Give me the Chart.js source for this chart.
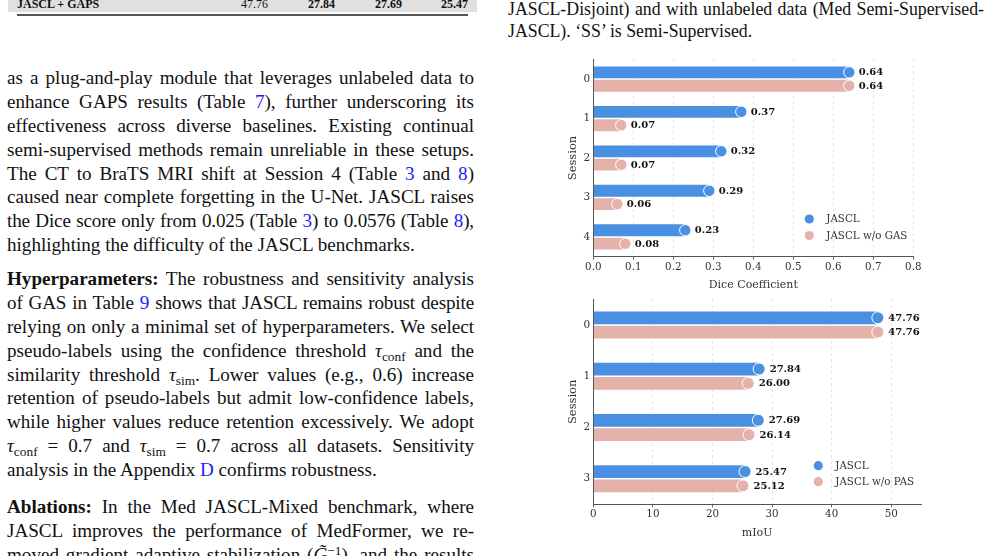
<!DOCTYPE html>
<html>
<head>
<meta charset="utf-8">
<script src="https://cdn.jsdelivr.net/npm/chart.js@4.4.0/dist/chart.umd.min.js"></script>
<style>
  html, body { margin: 0; padding: 0; background: #fff; }
  body {
    width: 987px; height: 556px; position: relative; overflow: hidden;
    font-family: "Liberation Serif", "Times New Roman", serif; color: #111;
  }
  a { color: #1a1aff; text-decoration: none; }
  .para { position: absolute; left: 7px; width: 467px; font-size: 19.1px; line-height: 23.9px; }
  .para div { text-align: justify; text-align-last: justify; height: 23.9px; overflow: visible; }
  .para div.last { text-align-last: left; }
  .para div.tight { word-spacing: -2px; letter-spacing: -0.15px; }
  .m { font-style: italic; }
  sub { font-size: 70%; line-height: 0; vertical-align: -0.3em; font-style: normal; }
  sup { font-size: 70%; line-height: 0; vertical-align: 0.45em; }
  .caption { position: absolute; left: 508px; top: -1px; width: 476px; font-size: 17.8px; line-height: 21.7px; }
  .caption div { text-align: justify; text-align-last: justify; height: 21.7px; }
  .caption div.last { text-align-last: left; }
  .row { position: absolute; left: 8px; top: 0; width: 469px; height: 12.3px; background: #e0e0e0; }
  .cell { position: absolute; top: -1.8px; font-size: 12px; line-height: 12px; }
  .num { width: 50px; text-align: right; }
  .rule { position: absolute; left: 17px; top: 14px; width: 451px; height: 1.7px; background: #555; }
  canvas { position: absolute; }
</style>
</head>
<body>

<div class="row"></div>
<div class="cell" style="left:17px"><b>JASCL + GAPS</b></div>
<div class="cell num" style="left:218px">47.76</div>
<div class="cell num" style="left:285px"><b>27.84</b></div>
<div class="cell num" style="left:352px"><b>27.69</b></div>
<div class="cell num" style="left:418px"><b>25.47</b></div>
<div class="rule"></div>

<div class="caption">
  <div>JASCL-Disjoint) and with unlabeled data (Med Semi-Supervised-</div>
  <div class="last">JASCL). ‘SS’ is Semi-Supervised.</div>
</div>

<div class="para" style="top:66px">
  <div>as a plug-and-play module that leverages unlabeled data to</div>
  <div>enhance GAPS results (Table <a>7</a>), further underscoring its</div>
  <div>effectiveness across diverse baselines. Existing continual</div>
  <div>semi-supervised methods remain unreliable in these setups.</div>
  <div>The CT to BraTS MRI shift at Session 4 (Table <a>3</a> and <a>8</a>)</div>
  <div>caused near complete forgetting in the U-Net. JASCL raises</div>
  <div class="tight">the Dice score only from 0.025 (Table <a>3</a>) to 0.0576 (Table <a>8</a>),</div>
  <div class="last">highlighting the difficulty of the JASCL benchmarks.</div>
</div>

<div class="para" style="top:267px">
  <div><b>Hyperparameters:</b> The robustness and sensitivity analysis</div>
  <div class="tight">of GAS in Table <a>9</a> shows that JASCL remains robust despite</div>
  <div>relying on only a minimal set of hyperparameters. We select</div>
  <div>pseudo-labels using the confidence threshold <span class="m">τ</span><sub>conf</sub> and the</div>
  <div>similarity threshold <span class="m">τ</span><sub>sim</sub>. Lower values (e.g., 0.6) increase</div>
  <div>retention of pseudo-labels but admit low-confidence labels,</div>
  <div>while higher values reduce retention excessively. We adopt</div>
  <div><span class="m">τ</span><sub>conf</sub> = 0.7 and <span class="m">τ</span><sub>sim</sub> = 0.7 across all datasets. Sensitivity</div>
  <div class="last">analysis in the Appendix <a>D</a> confirms robustness.</div>
</div>

<div class="para" style="top:495px">
  <div><b>Ablations:</b> In the Med JASCL-Mixed benchmark, where</div>
  <div>JASCL improves the performance of MedFormer, we re-</div>
  <div>moved gradient adaptive stabilization (<span class="m">G̃</span><sup>−1</sup>), and the results</div>
</div>

<canvas id="diceChart" width="375" height="245" style="left:550px;top:50px"></canvas>
<canvas id="miouChart" width="380" height="260" style="left:550px;top:290px"></canvas>

<script>
const diceSessions = ["0", "1", "2", "3", "4"];
const diceJascl = [0.64, 0.37, 0.32, 0.29, 0.23];
const diceNoGas = [0.64, 0.07, 0.07, 0.06, 0.08];
const diceTicks = [0, 0.1, 0.2, 0.3, 0.4, 0.5, 0.6, 0.7, 0.8];

const miouSessions = ["0", "1", "2", "3"];
const miouJascl = [47.76, 27.84, 27.69, 25.47];
const miouNoPas = [47.76, 26.0, 26.14, 25.12];
const miouTicks = [0, 10, 20, 30, 40, 50];

const blue = "#4a90e2";
const pink = "#e5b1ab";
const serif = "'DejaVu Serif', serif";

// circle at the end of each bar plus the bold value label
const barEnds = {
  id: "barEnds",
  afterDatasetsDraw(chart, args, opts) {
    const ctx = chart.ctx;
    chart.data.datasets.forEach((ds, di) => {
      chart.getDatasetMeta(di).data.forEach((bar, i) => {
        ctx.save();
        ctx.beginPath();
        ctx.arc(bar.x, bar.y, opts.radius, 0, Math.PI * 2);
        ctx.fillStyle = ds.backgroundColor;
        ctx.fill();
        ctx.lineWidth = 1;
        ctx.strokeStyle = "#fff";
        ctx.stroke();
        ctx.fillStyle = "#111";
        ctx.font = "bold 10px " + serif;
        ctx.textBaseline = "middle";
        ctx.fillText(ds.data[i].toFixed(2), bar.x + opts.gap, bar.y + 0.5);
        ctx.restore();
      });
    });
  },
};

// legend drawn inside the plot, lower right
const innerLegend = {
  id: "innerLegend",
  afterDraw(chart, args, opts) {
    const ctx = chart.ctx;
    const area = chart.chartArea;
    chart.data.datasets.forEach((ds, di) => {
      const x = area.right + opts.dx;
      const y = area.bottom + opts.dy + di * opts.step;
      ctx.save();
      ctx.beginPath();
      ctx.arc(x, y, 4.6, 0, Math.PI * 2);
      ctx.fillStyle = ds.backgroundColor;
      ctx.fill();
      ctx.fillStyle = "#333";
      ctx.font = "10.3px " + serif;
      ctx.textBaseline = "middle";
      ctx.fillText(ds.label, x + 17, y + 0.5);
      ctx.restore();
    });
  },
};

function makeSessionChart(id, cfg) {
  const ctx = document.getElementById(id).getContext("2d");
  return new Chart(ctx, {
    type: "bar",
    data: {
      labels: cfg.labels,
      datasets: [
        {
          label: "JASCL",
          data: cfg.first,
          backgroundColor: blue,
          borderColor: "rgba(255,255,255,0.7)",
          borderWidth: 0.8,
        },
        {
          label: cfg.secondLabel,
          data: cfg.second,
          backgroundColor: pink,
          borderColor: "rgba(255,255,255,0.7)",
          borderWidth: 0.8,
        },
      ],
    },
    plugins: [barEnds, innerLegend],
    options: {
      indexAxis: "y",
      responsive: false,
      animation: false,
      devicePixelRatio: 1,
      categoryPercentage: cfg.catPct,
      barPercentage: 1,
      layout: { padding: cfg.padding },
      scales: {
        x: {
          min: 0,
          max: cfg.max,
          afterBuildTicks: (scale) => {
            scale.ticks = cfg.ticks.map((v) => ({ value: v }));
          },
          afterFit: (scale) => {
            scale.height = cfg.xHeight;
          },
          ticks: {
            color: "#333",
            font: { family: serif, size: 10.3 },
            padding: cfg.tickPad,
            callback: (v) => cfg.fmt(v),
          },
          grid: {
            color: "#e4e4e4",
            tickColor: "#666",
            tickLength: 3,
            tickBorderDash: [],
          },
          border: { display: true, color: "#555", width: 1, dash: [3, 3] },
          title: {
            display: true,
            text: cfg.xTitle,
            color: "#333",
            font: { family: serif, size: 11 },
            padding: { top: 0, bottom: cfg.titlePad },
          },
        },
        y: {
          afterFit: (scale) => {
            scale.width = 43.3;
          },
          ticks: {
            color: "#333",
            font: { family: serif, size: 10.5 },
            padding: 3,
          },
          grid: { display: false, drawTicks: false },
          border: { display: true, color: "#555", width: 1 },
          title: {
            display: true,
            text: "Session",
            color: "#333",
            font: { family: serif, size: 11.5 },
            padding: { top: 16, bottom: 0 },
          },
        },
      },
      plugins: {
        legend: { display: false },
        tooltip: { enabled: false },
        barEnds: { radius: cfg.radius, gap: cfg.gap },
        innerLegend: cfg.legend,
      },
    },
  });
}

makeSessionChart("diceChart", {
  labels: diceSessions,
  first: diceJascl,
  second: diceNoGas,
  secondLabel: "JASCL w/o GAS",
  ticks: diceTicks,
  max: 0.8,
  fmt: (v) => v.toFixed(1),
  xTitle: "Dice Coefficient",
  catPct: 0.68,
  padding: { top: 7.6, right: 11.7, left: 0, bottom: 0 },
  xHeight: 38.3,
  tickPad: 1,
  titlePad: 3.7,
  radius: 5.7,
  gap: 9.5,
  legend: { dx: -104, dy: -37.7, step: 16.5 },
});

makeSessionChart("miouChart", {
  labels: miouSessions,
  first: miouJascl,
  second: miouNoPas,
  secondLabel: "JASCL w/o PAS",
  ticks: miouTicks,
  max: 55,
  fmt: (v) => String(v),
  xTitle: "mIoU",
  catPct: 0.56,
  padding: { top: 7, right: 9, left: 0, bottom: 0 },
  xHeight: 45.7,
  tickPad: 0.5,
  titlePad: 10.5,
  radius: 6,
  gap: 10.5,
  legend: { dx: -102.7, dy: -38.6, step: 16 },
});
</script>
</body>
</html>
